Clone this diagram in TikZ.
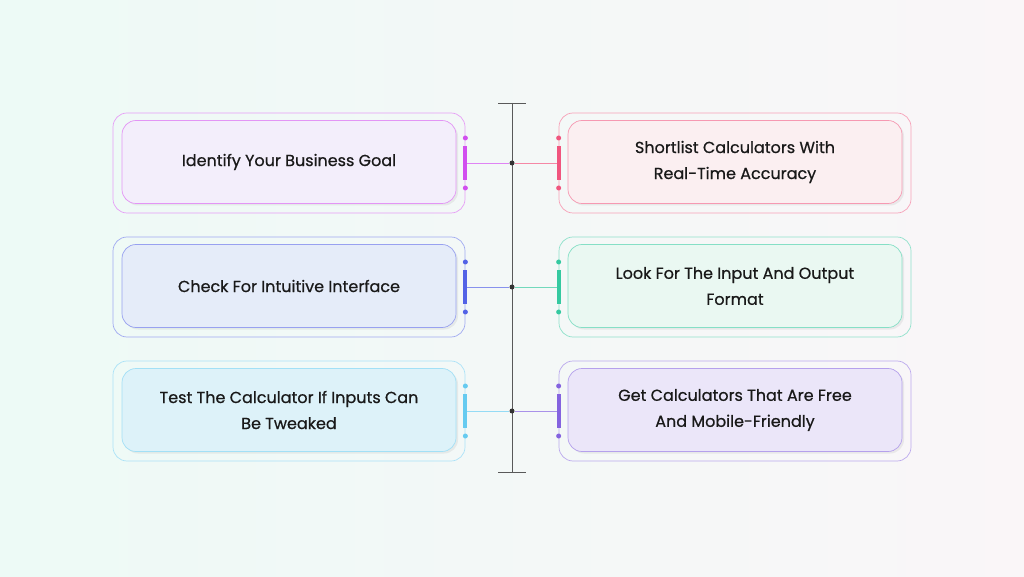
\documentclass[tikz,border=0pt]{standalone}
\usepackage{fontspec}
\setmainfont{Poppins}[FakeBold=0.6]
\usetikzlibrary{positioning,shadows}
\definecolor{bgl}{HTML}{EDFAF6}
\definecolor{bgr}{HTML}{FAF6F8}
\definecolor{cA}{HTML}{D14FEF}\definecolor{fA}{HTML}{F3EEFB}
\definecolor{cB}{HTML}{F0557E}\definecolor{fB}{HTML}{FBEFF1}
\definecolor{cC}{HTML}{5363E6}\definecolor{fC}{HTML}{E5ECF9}
\definecolor{cD}{HTML}{35C9A0}\definecolor{fD}{HTML}{EAF8F2}
\definecolor{cE}{HTML}{66CBF0}\definecolor{fE}{HTML}{DDF2F9}
\definecolor{cF}{HTML}{8463DF}\definecolor{fF}{HTML}{EBE6F9}
\tikzset
{
  outerbox/.style = {draw=#1!55, rounded corners=14pt, minimum width=352pt, minimum height=100pt, line width=0.7pt},
  innerbox/.style = {draw=c#1!60, fill=f#1, rounded corners=14pt, minimum width=334pt, minimum height=83pt, line width=0.7pt, align=center, font=\fontsize{16pt}{26pt}\selectfont\color{black!90}, drop shadow={shadow xshift=2pt, shadow yshift=-2pt, opacity=0.12}},
  tick/.style     = {line width=4pt, #1},
  pin/.style      = {circle, fill=#1, inner sep=0pt, minimum size=5pt}
}
\begin{document}
\begin{tikzpicture}[x=1pt,y=1pt]
  \shade[left color=bgl, right color=bgr] (0,0) rectangle (1024,576);
  \useasboundingbox (0,0) rectangle (1024,576);
  % spine
  \coordinate (top) at (512,473);
  \coordinate (bot) at (512,104);
  \draw[black!65, line width=0.8pt] (top) -- (bot);
  \draw[black!65, line width=0.8pt] (498,473) -- (526,473);
  \draw[black!65, line width=0.8pt] (498,104) -- (526,104);
  \foreach \y/\l/\r/\tl/\tr [count=\i] in {
      413/A/B/{Identify Your Business Goal}/{Shortlist Calculators With\\Real-Time Accuracy},
      289/C/D/{Check For Intuitive Interface}/{Look For The Input And Output\\Format},
      165/E/F/{Test The Calculator If Inputs Can\\Be Tweaked}/{Get Calculators That Are Free\\And Mobile-Friendly}}
  {
    % left card
    \node[outerbox=c\l] (lo\i) at (289,\y) {};
    \node[innerbox=\l] (li\i) at (289,\y+1) {\tl};
    % right card
    \node[outerbox=c\r] (ro\i) at (735,\y) {};
    \node[innerbox=\r] (ri\i) at (735,\y+1) {\tr};
    \node[circle, fill=black!80, inner sep=0pt, minimum size=5pt] (hub\i) at (512,\y) {};
    \draw[c\l!70, line width=0.7pt] (lo\i.east) -- (hub\i);
    \draw[c\r!70, line width=0.7pt] (hub\i) -- (ro\i.west);
    \draw[tick=c\l] ([yshift=-17pt]lo\i.east) -- ([yshift=17pt]lo\i.east);
    \draw[tick=c\r] ([yshift=-17pt]ro\i.west) -- ([yshift=17pt]ro\i.west);
    \node[pin=c\l] at ([yshift=25pt]lo\i.east) {};
    \node[pin=c\l] at ([yshift=-25pt]lo\i.east) {};
    \node[pin=c\r] at ([yshift=25pt]ro\i.west) {};
    \node[pin=c\r] at ([yshift=-25pt]ro\i.west) {};
  }
\end{tikzpicture}
\end{document}
